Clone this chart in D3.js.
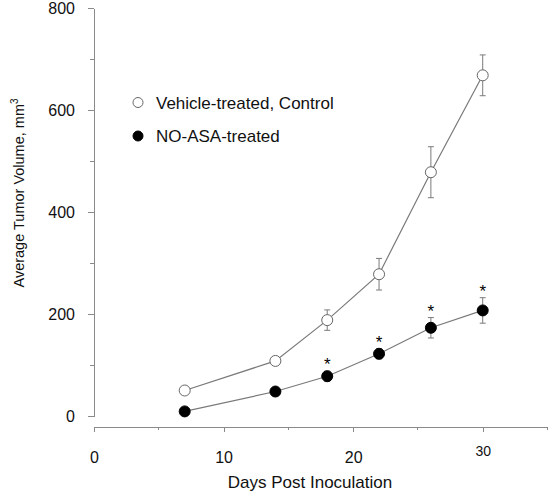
<!DOCTYPE html>
<html>
<head>
<meta charset="utf-8">
<script src="https://cdn.jsdelivr.net/npm/d3@7"></script>
<style>
  body { margin: 0; background: #fff; }
  svg { display: block; font-family: "Liberation Sans", Arial, sans-serif; }
  .axis path, .axis line { stroke: #8a8a8a; stroke-width: 1; shape-rendering: crispEdges; }
  .axis text { fill: #111; }
</style>
</head>
<body>
<svg id="chart" width="550" height="494"></svg>
<script>
// ── Data ───────────────────────────────────────────────────────────────────
const days = [7, 14, 18, 22, 26, 30];
const vehicleMean = [50, 108, 188, 278, 478, 668];
const vehicleErr = [5, 8, 20, 31, 50, 40];
const noAsaMean = [9, 48, 78, 122, 173, 207];
const noAsaErr = [4, 5, 10, 10, 20, 25];
const significant = [false, false, true, true, true, true];
const seriesNames = ['Vehicle-treated, Control', 'NO-ASA-treated'];
const xTicks = [0, 10, 20, 30];
const yTicks = [0, 200, 400, 600, 800];

(function () {
  const svg = d3.select('#chart');

  // ── Scales ───────────────────────────────────────────────────────────────
  const x = d3.scaleLinear().domain([0, 35]).range([94, 547.5]);
  const y = d3.scaleLinear().domain([0, 800]).range([416, 8]);
  const xAxisY = 427;

  // ── Y axis: major ticks + minor ticks at 100 ─────────────────────────────
  const yAxis = svg.append('g').attr('class', 'axis')
    .attr('transform', 'translate(94,0)')
    .call(d3.axisLeft(y).tickValues(yTicks).tickSize(6).tickSizeOuter(0).tickPadding(13))
    .call(g => g.selectAll('text').attr('font-size', 16).attr('font-family', null));
  yAxis.selectAll('.minor')
    .data([100, 300, 500, 700])
    .join('line')
      .attr('class', 'minor')
      .attr('x1', -4).attr('x2', 0)
      .attr('y1', d => y(d)).attr('y2', d => y(d));

  // ── X axis ───────────────────────────────────────────────────────────────
  const xAxis = svg.append('g').attr('class', 'axis')
    .attr('transform', `translate(0,${xAxisY})`)
    .call(d3.axisBottom(x).tickValues(xTicks).tickSize(5).tickSizeOuter(0).tickPadding(20))
    .call(g => g.selectAll('text').attr('font-size', 16).attr('font-family', null));
  // the "30" label is set smaller and a little higher in the original
  xAxis.selectAll('.tick text')
    .filter(d => d === 30)
    .attr('font-size', 14)
    .attr('y', 19);
  xAxis.selectAll('.minor')
    .data([5, 15, 25, 35])
    .join('line')
      .attr('class', 'minor')
      .attr('y1', 0).attr('y2', 3)
      .attr('x1', d => x(d)).attr('x2', d => x(d));

  // ── Axis titles ──────────────────────────────────────────────────────────
  svg.append('text')
    .attr('x', 310).attr('y', 488)
    .attr('text-anchor', 'middle')
    .attr('font-size', 17).attr('fill', '#111')
    .text('Days Post Inoculation');

  const yTitle = svg.append('text')
    .attr('transform', 'translate(24,193) rotate(-90)')
    .attr('text-anchor', 'middle')
    .attr('font-size', 14.5).attr('fill', '#111');
  yTitle.append('tspan').text('Average Tumor Volume, mm');
  yTitle.append('tspan').attr('font-size', 10).attr('dy', -6).text('3');

  // ── Series ───────────────────────────────────────────────────────────────
  const series = [
    { name: seriesNames[0], mean: vehicleMean, err: vehicleErr, fill: '#fff' },
    { name: seriesNames[1], mean: noAsaMean, err: noAsaErr, fill: '#000' }
  ];

  const line = d3.line()
    .x(d => x(d.day))
    .y(d => y(d.mean));

  series.forEach(function (s) {
    const pts = days.map((d, i) => ({ day: d, mean: s.mean[i], err: s.err[i], sig: significant[i] }));
    const g = svg.append('g');

    g.append('path')
      .datum(pts)
      .attr('fill', 'none')
      .attr('stroke', '#7a7a7a')
      .attr('stroke-width', 1.2)
      .attr('d', line);

    // error bars
    const eb = g.selectAll('g.err').data(pts).join('g').attr('class', 'err')
      .attr('stroke', '#7a7a7a').attr('stroke-width', 1);
    eb.append('line')
      .attr('x1', d => x(d.day)).attr('x2', d => x(d.day))
      .attr('y1', d => y(d.mean + d.err)).attr('y2', d => y(d.mean - d.err));
    eb.append('line')
      .attr('x1', d => x(d.day) - 3).attr('x2', d => x(d.day) + 3)
      .attr('y1', d => y(d.mean + d.err)).attr('y2', d => y(d.mean + d.err));
    eb.append('line')
      .attr('x1', d => x(d.day) - 3).attr('x2', d => x(d.day) + 3)
      .attr('y1', d => y(d.mean - d.err)).attr('y2', d => y(d.mean - d.err));

    g.selectAll('circle').data(pts).join('circle')
      .attr('cx', d => x(d.day))
      .attr('cy', d => y(d.mean))
      .attr('r', 5.5)
      .attr('fill', s.fill)
      .attr('stroke', s.fill === '#000' ? '#000' : '#666')
      .attr('stroke-width', 1);
  });

  // significance markers over the NO-ASA points
  const sigPts = days.map((d, i) => ({ day: d, top: noAsaMean[i] + noAsaErr[i], sig: significant[i] }))
    .filter(d => d.sig);
  svg.selectAll('text.star').data(sigPts).join('text')
    .attr('class', 'star')
    .attr('x', d => x(d.day))
    .attr('y', d => y(d.top) - 1)
    .attr('text-anchor', 'middle')
    .attr('font-size', 17).attr('fill', '#000')
    .text('*');

  // ── Legend ───────────────────────────────────────────────────────────────
  const legend = svg.append('g');
  const legendRows = legend.selectAll('g').data(series).join('g')
    .attr('transform', (d, i) => `translate(138,${102.5 + i * 33.5})`);
  legendRows.append('circle')
    .attr('r', 5)
    .attr('fill', d => d.fill)
    .attr('stroke', d => d.fill === '#000' ? '#000' : '#666');
  legendRows.append('text')
    .attr('x', 18).attr('y', 6)
    .attr('font-size', 17).attr('fill', '#111')
    .text(d => d.name);
})();
</script>
</body>
</html>
